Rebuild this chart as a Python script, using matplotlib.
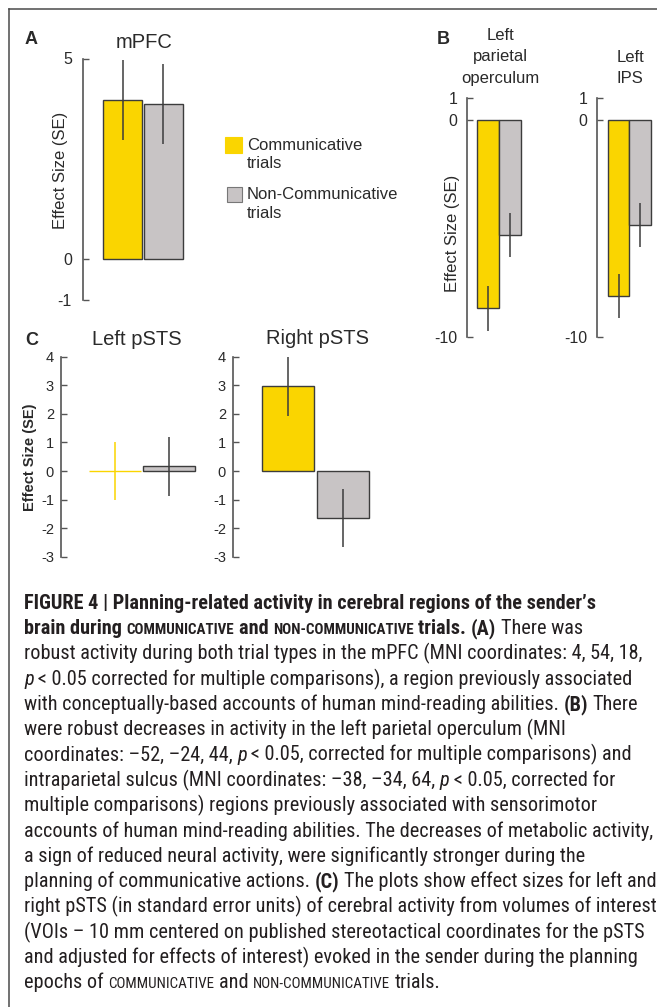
import numpy as np
import matplotlib
matplotlib.use("Agg")
import matplotlib.pyplot as plt
from matplotlib.font_manager import FontProperties, fontManager
from matplotlib.patches import Rectangle
from matplotlib.lines import Line2D

# ---------------- data ----------------
conditions = ["Communicative\ntrials", "Non-Communicative\ntrials"]

mpfc_vals = [3.96, 3.86]
mpfc_se = [1.00, 1.00]

lpo_vals = [-8.68, -5.30]     # left parietal operculum
lpo_se = [1.03, 1.00]

lips_vals = [-8.11, -4.85]    # left IPS
lips_se = [1.00, 1.01]

lpsts_vals = [0.00, 0.16]     # left pSTS
lpsts_se = [1.03, 1.03]

rpsts_vals = [2.98, -1.65]    # right pSTS
rpsts_se = [1.05, 1.02]

ticks_a = [-1, 0, 5]
ticks_b = [-10, 0, 1]
ticks_c = [-3, -2, -1, 0, 1, 2, 3, 4]

caption_lines = [
    [("FIGURE 4 | Planning-related activity in cerebral regions of the sender\u2019s", "b")],
    [("brain during ", "b"), ("COMMUNICATIVE", "bsc"), (" and ", "b"), ("NON-COMMUNICATIVE", "bsc"),
     (" trials. ", "b"), ("(A)", "b"), (" There was", "r")],
    [("robust activity during both trial types in the mPFC (MNI coordinates: 4, 54, 18,", "r")],
    [("p", "i"), ("\u2009< 0.05 corrected for multiple comparisons), a region previously associated", "r")],
    [("with conceptually-based accounts of human mind-reading abilities. ", "r"), ("(B)", "b"), (" There", "r")],
    [("were robust decreases in activity in the left parietal operculum (MNI", "r")],
    [("coordinates: \u201352, \u201324, 44, ", "r"), ("p", "i"), ("\u2009< 0.05, corrected for multiple comparisons) and", "r")],
    [("intraparietal sulcus (MNI coordinates: \u201338, \u201334, 64, ", "r"), ("p", "i"), ("\u2009< 0.05, corrected for", "r")],
    [("multiple comparisons) regions previously associated with sensorimotor", "r")],
    [("accounts of human mind-reading abilities. The decreases of metabolic activity,", "r")],
    [("a sign of reduced neural activity, were significantly stronger during the", "r")],
    [("planning of communicative actions. ", "r"), ("(C)", "b"), (" The plots show effect sizes for left and", "r")],
    [("right pSTS (in standard error units) of cerebral activity from volumes of interest", "r")],
    [("(VOIs \u2013 10 mm centered on published stereotactical coordinates for the pSTS", "r")],
    [("and adjusted for effects of interest) evoked in the sender during the planning", "r")],
    [("epochs of ", "r"), ("COMMUNICATIVE", "sc"), (" and ", "r"), ("NON-COMMUNICATIVE", "sc"), (" trials.", "r")],
]

# ---------------- style ----------------
YELLOW = "#FAD500"
GRAY = "#C8C4C5"
EDGE = "#3c3c3c"
AXC = "#555555"
TXT = "#2a2a2a"
colors = [YELLOW, GRAY]

plt.rcParams["font.family"] = ["Liberation Sans", "DejaVu Sans"]
plt.rcParams["axes.unicode_minus"] = False

W, H = 657, 1007
fig = plt.figure(figsize=(W / 100, H / 100), dpi=100)


def fx(x):
    return x / W


def fy(y):
    return 1 - y / H


def make_axes(left, top, right, bottom):
    return fig.add_axes([fx(left), fy(bottom), (right - left) / W, (bottom - top) / H])


def panel(ax, vals, ses, ylim, yticks, spacing_px, offset_px, width_px, tick_fs, pad):
    x = np.arange(len(vals))
    for i in range(len(vals)):
        edge = colors[i] if vals[i] == 0 else EDGE
        ax.bar(x[i], vals[i], width=width_px / spacing_px, color=colors[i],
               edgecolor=edge, linewidth=1.0, zorder=2)
        ax.errorbar(x[i], vals[i], yerr=ses[i], fmt="none",
                    ecolor=(colors[i] if vals[i] == 0 else EDGE),
                    elinewidth=1.1, capsize=0, zorder=3)
    ax_w_px = ax.get_position().width * W
    lo = -offset_px / spacing_px
    ax.set_xlim(lo, lo + ax_w_px / spacing_px)
    ax.set_ylim(*ylim)
    ax.set_yticks(yticks)
    ax.set_xticks([])
    for s in ["top", "right", "bottom"]:
        ax.spines[s].set_visible(False)
    ax.spines["left"].set_color(AXC)
    ax.spines["left"].set_linewidth(1.2)
    ax.tick_params(axis="y", direction="in", length=4, width=1.0, color=AXC,
                   labelsize=tick_fs, labelcolor=TXT, pad=pad)
    ax.patch.set_alpha(0)


# Panel A
axA = make_axes(83, 58.5, 203, 299.5)
panel(axA, mpfc_vals, mpfc_se, (-1, 5), ticks_a, 40.5, 39.5, 39, 11.5, 8)

# Panel B
axB1 = make_axes(467, 98.3, 537, 337)
panel(axB1, lpo_vals, lpo_se, (-10, 1), ticks_b, 22, 21, 22, 11.5, 7)
axB2 = make_axes(597, 98.3, 667, 337)
panel(axB2, lips_vals, lips_se, (-10, 1), ticks_b, 21.5, 21.5, 21.5, 11.5, 7)

# Panel C
axC1 = make_axes(61, 356.7, 211, 556.8)
panel(axC1, lpsts_vals, lpsts_se, (-3, 4), ticks_c, 54, 54, 52, 10.5, 5)
axC2 = make_axes(233, 356.7, 383, 556.8)
panel(axC2, rpsts_vals, rpsts_se, (-3, 4), ticks_c, 55, 55, 52, 10.5, 5)

# ---------------- panel texts ----------------
def ftext(x, y, s, **kw):
    kw.setdefault("color", TXT)
    return fig.text(fx(x), fy(y), s, **kw)


ftext(25, 44, "A", fontsize=13, fontweight="bold", va="baseline", ha="left")
ftext(144, 48, "mPFC", fontsize=14.5, va="baseline", ha="center")
ftext(60, 170, "Effect Size (SE)", fontsize=12, rotation=90, va="center", ha="center")

ftext(437, 44, "B", fontsize=13, fontweight="bold", va="baseline", ha="left")
for txt, yb in zip(["Left", "parietal", "operculum"], [40, 61.5, 83]):
    ftext(500, yb, txt, fontsize=12, va="baseline", ha="center")
for txt, yb in zip(["Left", "IPS"], [61.5, 83]):
    ftext(630, yb, txt, fontsize=12, va="baseline", ha="center")
ftext(452, 233, "Effect Size (SE)", fontsize=12, rotation=90, va="center", ha="center")

ftext(25, 345, "C", fontsize=13, fontweight="bold", va="baseline", ha="left")
ftext(137, 345, "Left pSTS", fontsize=14.5, va="baseline", ha="center")
ftext(318, 344, "Right pSTS", fontsize=14.5, va="baseline", ha="center")
ftext(30, 457, "Effect Size (SE)", fontsize=10.5, fontweight="bold", rotation=90,
      va="center", ha="center")

# legend
leg_boxes = [(225, 137, 17, 16), (227, 187, 15, 15)]
leg_edges = [YELLOW, "#777777"]
leg_base = [(150, 168), (199, 218)]
for i, lab in enumerate(conditions):
    x0, y0, w, h = leg_boxes[i]
    fig.add_artist(Rectangle((fx(x0), fy(y0 + h)), w / W, h / H, transform=fig.transFigure,
                             facecolor=colors[i], edgecolor=leg_edges[i], linewidth=0.8))
    for line, yb in zip(lab.split("\n"), leg_base[i]):
        ftext(247, yb, line, fontsize=12, va="baseline", ha="left")

# frame
fig.add_artist(Line2D([fx(8.5), fx(8.5)], [fy(8.5), fy(1007)], transform=fig.transFigure,
                      color="#4a4a4a", linewidth=1.1))
fig.add_artist(Line2D([fx(8.5), fx(657)], [fy(8.5), fy(8.5)], transform=fig.transFigure,
                      color="#4a4a4a", linewidth=1.1))

# ---------------- caption ----------------
names = {f.name for f in fontManager.ttflist}
cap_family = "Liberation Sans"
for cand in ["Liberation Sans Narrow", "Roboto Condensed", "Roboto", "Liberation Sans"]:
    if cand in names:
        cap_family = cand
        break

renderer = fig.canvas.get_renderer()


def seg_fp(style, fs):
    size = fs * 0.74 if "sc" in style else fs
    weight = "bold" if style.startswith("b") else "normal"
    st = "italic" if style == "i" else "normal"
    return FontProperties(family=[cap_family, "DejaVu Sans"], size=size, weight=weight, style=st)


def adv(text, fp):
    w1, _, _ = renderer.get_text_width_height_descent(text + "|", fp, ismath=False)
    w0, _, _ = renderer.get_text_width_height_descent("|", fp, ismath=False)
    return w1 - w0


ref_w = sum(adv(t, seg_fp(s, 10)) for t, s in caption_lines[12])
cap_fs = 10 * 627 / ref_w

y_first, y_step = 609, 25.3
for i, line in enumerate(caption_lines):
    x = 24
    yb = y_first + i * y_step
    for t, s in line:
        fp = seg_fp(s, cap_fs)
        stripped = t.lstrip(" ")
        lead = t[: len(t) - len(stripped)]
        xd = x + (adv(lead, fp) if lead else 0)
        if stripped:
            fig.text(fx(xd), fy(yb), stripped, fontproperties=fp, va="baseline", ha="left",
                     color="#231f20")
        x += adv(t, fp)

fig.savefig("out.png", dpi=100)
